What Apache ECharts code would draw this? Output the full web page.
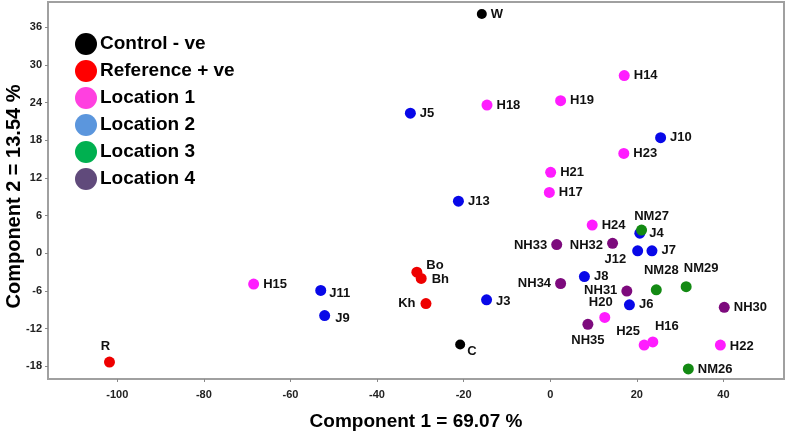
<!DOCTYPE html>
<html>
<head>
<meta charset="utf-8">
<script src="https://cdn.jsdelivr.net/npm/echarts@6/dist/echarts.min.js"></script>
<style>
html,body{margin:0;padding:0;background:#fff;}
#chart{width:787px;height:432px;}
</style>
</head>
<body>
<div id="chart"></div>
<script>
// ---- data ----
const groupNames = ['Control - ve', 'Reference + ve', 'Location 1', 'Location 2', 'Location 3', 'Location 4'];

const controlNames = ['W', 'C'];
const controlX = [-15.8, -20.8];
const controlY = [38.1, -14.5];

const referenceNames = ['R', 'Bo', 'Bh', 'Kh'];
const referenceX = [-101.8, -30.8, -29.8, -28.7];
const referenceY = [-17.3, -3.0, -4.0, -8.0];

const loc1Names = ['H14', 'H15', 'H16', 'H17', 'H18', 'H19', 'H20', 'H21', 'H22', 'H23', 'H24', 'H25'];
const loc1X = [17.1, -68.5, 23.7, -0.2, -14.6, 2.4, 12.6, 0.1, 39.3, 17.0, 9.7, 21.7];
const loc1Y = [28.3, -4.9, -14.1, 9.7, 23.6, 24.3, -10.2, 12.9, -14.6, 15.9, 4.5, -14.6];

const loc2Names = ['J3', 'J4', 'J5', 'J6', 'J7', 'J8', 'J9', 'J10', 'J11', 'J12', 'J13'];
const loc2X = [-14.7, 20.7, -32.3, 18.3, 23.5, 7.9, -52.1, 25.5, -53.0, 20.2, -21.2];
const loc2Y = [-7.4, 3.2, 22.3, -8.2, 0.4, -3.7, -9.9, 18.4, -5.9, 0.4, 8.3];

const loc3Names = ['NM26', 'NM27', 'NM28', 'NM29'];
const loc3X = [31.9, 21.1, 24.5, 31.4];
const loc3Y = [-18.4, 3.7, -5.8, -5.3];

const loc4Names = ['NH30', 'NH31', 'NH32', 'NH33', 'NH34', 'NH35'];
const loc4X = [40.2, 17.7, 14.4, 1.5, 2.4, 8.7];
const loc4Y = [-8.6, -6.0, 1.6, 1.4, -4.8, -11.3];

const xTicks = [-100, -80, -60, -40, -20, 0, 20, 40];
const yTicks = [-18, -12, -6, 0, 6, 12, 18, 24, 30, 36];

// ---- styles ----
const pointColors = ['#000000', '#ee0000', '#ff1cff', '#0808e8', '#138a13', '#7d0a7d'];
const legendColors = ['#000000', '#ff0000', '#ff40e0', '#5b96dd', '#00b050', '#604a7b'];

// label placement: [position, dx, dy]
const labelPlace = {
  'C': ['right', -2, 7],
  'R': ['top', -4, 0],
  'Bo': ['right', 0, -7],
  'Bh': ['right', 1, 1],
  'Kh': ['left', -1, 0],
  'J11': ['right', -1, 3],
  'J9': ['right', 1, 3],
  'J3': ['right', 0, 2],
  'NM27': ['top', 10, 2],
  'NH33': ['left', 0, 1],
  'NH32': ['left', 0, 2],
  'J12': ['left', -2, 9],
  'NH34': ['left', 0, 0],
  'NH31': ['left', 0, -1],
  'NM28': ['top', 5, -3],
  'NM29': ['top', 15, -2],
  'H20': ['top', -4, 1],
  'NH35': ['bottom', 0, 0],
  'H25': ['top', -16, 2],
  'H16': ['top', 14, 0],
  'H22': ['right', 0, 1]
};

function build(names, xs, ys) {
  return names.map((n, i) => {
    const p = labelPlace[n] || ['right', 0, 0];
    return {
      name: n,
      value: [xs[i], ys[i]],
      label: { position: p[0], offset: [p[1], p[2]] }
    };
  });
}

const groups = [
  build(controlNames, controlX, controlY),
  build(referenceNames, referenceX, referenceY),
  build(loc1Names, loc1X, loc1Y),
  build(loc2Names, loc2X, loc2Y),
  build(loc3Names, loc3X, loc3Y),
  build(loc4Names, loc4X, loc4Y)
];

const chart = echarts.init(document.getElementById('chart'), null, { renderer: 'canvas' });

const axisLineStyle = { color: '#a0a0a0', width: 2 };
const tickLabelStyle = { color: '#222', fontSize: 11, fontWeight: 'bold', fontFamily: 'Liberation Sans, Arial, sans-serif' };

chart.setOption({
  animation: false,
  backgroundColor: '#ffffff',
  grid: {
    left: 48, right: 3, top: 2, bottom: 53,
    containLabel: false,
    outerBoundsMode: 'none',
    show: true, borderColor: '#a0a0a0', borderWidth: 2, backgroundColor: 'transparent'
  },
  legend: {
    orient: 'vertical',
    left: 70, top: 28,
    icon: 'circle',
    itemWidth: 22, itemHeight: 22, itemGap: 5,
    textStyle: { fontSize: 19, fontWeight: 'bold', color: '#000', fontFamily: 'Liberation Sans, Arial, sans-serif', padding: [0, 0, 0, -2] },
    data: groupNames.map((n, i) => ({ name: n, itemStyle: { color: legendColors[i] } }))
  },
  xAxis: {
    type: 'value',
    min: -116, max: 54,
    name: 'Component 1 = 69.07 %',
    nameLocation: 'middle',
    nameGap: 33,
    nameTextStyle: { fontSize: 19, fontWeight: 'bold', color: '#000', fontFamily: 'Liberation Sans, Arial, sans-serif' },
    axisLine: { show: true, onZero: false, lineStyle: axisLineStyle },
    axisTick: { show: true, length: 3, lineStyle: { color: '#888', width: 1 }, customValues: xTicks },
    axisLabel: Object.assign({ customValues: xTicks, margin: 10 }, tickLabelStyle),
    splitLine: { show: false }
  },
  yAxis: {
    type: 'value',
    min: -20, max: 40,
    name: 'Component 2 = 13.54 %',
    nameLocation: 'middle',
    nameGap: 24,
    nameMoveOverlap: false,
    nameRotate: 90,
    nameTextStyle: { fontSize: 20, fontWeight: 'bold', color: '#000', fontFamily: 'Liberation Sans, Arial, sans-serif', padding: [0, 12, 0, 0] },
    axisLine: { show: true, onZero: false, lineStyle: axisLineStyle },
    axisTick: { show: true, length: 3, lineStyle: { color: '#888', width: 1 }, customValues: yTicks },
    axisLabel: Object.assign({ customValues: yTicks, margin: 6 }, tickLabelStyle),
    splitLine: { show: false }
  },
  series: groupNames.map((n, i) => ({
    name: n,
    type: 'scatter',
    symbol: 'circle',
    symbolSize: i === 0 ? 10 : 11,
    itemStyle: { color: pointColors[i], opacity: 1 },
    label: {
      show: true,
      formatter: '{b}',
      distance: 4,
      color: '#111',
      fontSize: 13,
      fontWeight: 'bold',
      fontFamily: 'Liberation Sans, Arial, sans-serif'
    },
    data: groups[i]
  }))
});
</script>
</body>
</html>
